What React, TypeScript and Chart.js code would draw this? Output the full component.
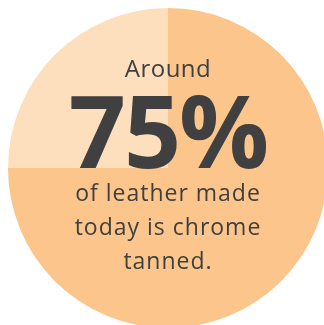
import React, { useEffect, useRef } from "react";
import { Chart, registerables } from "chart.js";

Chart.register(...registerables);

const categories = ["Chrome tanned", "Other methods"];
const values = [75, 25];
const colors = ["#FCC58B", "#FDDFBE"];
const headline = "Around";
const bigNumber = "75%";
const captionLines = ["of leather made", "today is chrome", "tanned."];

const TEXT = "#404040";
const FONT = "'Open Sans', sans-serif";

export default function App() {
  const ref = useRef<HTMLCanvasElement | null>(null);

  useEffect(() => {
    if (!ref.current) return;
    const chart = new Chart(ref.current, {
      type: "pie",
      data: {
        labels: categories,
        datasets: [
          {
            data: values,
            backgroundColor: colors,
            borderWidth: 0,
          },
        ],
      },
      options: {
        responsive: false,
        animation: false,
        maintainAspectRatio: false,
        layout: { padding: 0 },
        plugins: {
          legend: { display: false },
          tooltip: { enabled: false },
        },
      },
    });
    return () => chart.destroy();
  }, []);

  const lineStyle = (top: number, size: number, weight: number, spacing: number): React.CSSProperties => ({
    position: "absolute",
    left: 0,
    width: 320,
    top,
    textAlign: "center",
    fontFamily: FONT,
    fontSize: size,
    fontWeight: weight,
    lineHeight: `${size}px`,
    letterSpacing: spacing,
    color: TEXT,
    whiteSpace: "nowrap",
  });

  return (
    <div style={{ position: "absolute", left: 8, top: 8, width: 316, height: 317, overflow: "hidden" }}>
      <div style={{ position: "relative", width: 320, height: 320 }}>
        <canvas ref={ref} width={320} height={320} style={{ width: 320, height: 320, display: "block" }} />
        <div style={lineStyle(47.7, 24, 400, 0.5)}>{headline}</div>
        <div style={lineStyle(71.2, 100, 700, -2)}>{bigNumber}</div>
        {captionLines.map((t, i) => (
          <div key={i} style={lineStyle(172.6 + i * 34, 23, 400, 1)}>
            {t}
          </div>
        ))}
      </div>
    </div>
  );
}
